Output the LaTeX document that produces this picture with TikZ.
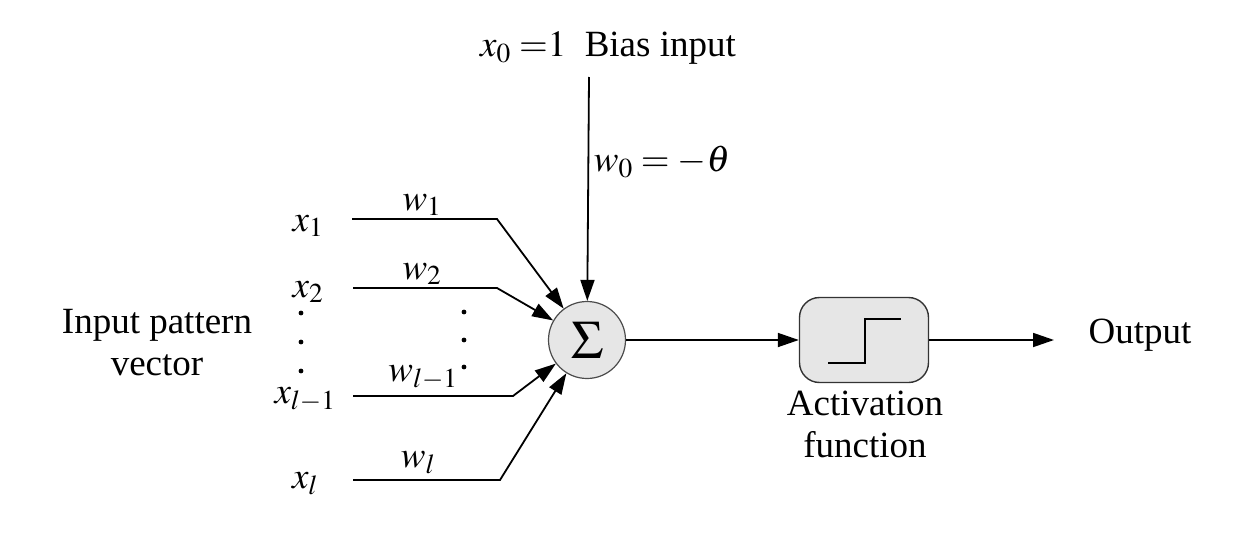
\documentclass[tikz,border=0pt]{standalone}
\usepackage{mathptmx}
\usepackage[no-math]{fontspec}
\setmainfont{Liberation Serif}
\usetikzlibrary{arrows.meta}
\definecolor{fillgray}{HTML}{E6E6E6}
\tikzset{
  txt/.style={inner sep=0pt, font=\fontsize{37}{42}\selectfont},
  arr/.style={line width=1.8pt, -{Triangle[length=21pt,width=14pt]}},
}
\begin{document}
\begin{tikzpicture}[x=1pt,y=-1pt]
\useasboundingbox (0,0) rectangle (1248,546);
% summing node
\node[circle, draw=black!70, fill=fillgray, line width=1.2pt, minimum size=77pt, inner sep=0pt] (sum) at (587,340) {\fontsize{54}{60}\selectfont$\Sigma$};
% activation block
\node[draw=black!80, fill=fillgray, rounded corners=20pt, line width=1.4pt, minimum width=129pt, minimum height=85pt] (act) at (864,340) {};
\draw[line width=1.8pt] ([xshift=-36pt,yshift=-23pt]act.center) -- ([xshift=1pt,yshift=-23pt]act.center) -- ([xshift=1pt,yshift=21pt]act.center) -- ([xshift=37pt,yshift=21pt]act.center);
% inputs
\coordinate (s1) at (352,219); \coordinate (c1) at (497,219);
\coordinate (s2) at (353,288); \coordinate (c2) at (497,288);
\coordinate (s3) at (353,396); \coordinate (c3) at (513,396);
\coordinate (s4) at (353,480); \coordinate (c4) at (500,480);
\coordinate (b0) at (589,77);
\draw[arr] (s1) -- (c1) -- (sum);
\draw[arr] (s2) -- (c2) -- (sum);
\draw[arr] (s3) -- (c3) -- (sum);
\draw[arr] (s4) -- (c4) -- (sum);
\draw[arr] (b0) -- (sum);
% output
\coordinate (out) at (1054,340);
\draw[arr] (sum) -- (act);
\draw[arr] (act) -- (out);
% labels
\node[txt] (lx1) at (308,226) {$x_1$};
\node[txt] (lx2) at (308,292) {$x_2$};
\node[txt] (lx3) at (305,400) {$x_{l-1}$};
\node[txt] (lx4) at (305,484) {$x_l$};
\node[txt] (lw1) at (422,205) {$w_1$};
\node[txt] (lw2) at (422,274) {$w_2$};
\node[txt] (lw3) at (423,378) {$w_{l-1}$};
\node[txt] (lw4) at (418,463) {$w_l$};
\foreach \yy [count=\i] in {313,342,371} { \fill (301,\yy) circle (2.4pt) coordinate (dl\i); }
\foreach \yy [count=\i] in {312,340,367} { \fill (464,\yy) circle (2.4pt) coordinate (dr\i); }
\node[txt] (bias) at (608,48) {$x_0\;{=}1$\ \ Bias input};
\node[txt] (lw0) at (662,162) {$w_0 =-\theta$};
\node[txt, align=center] (ipv) at (157,343) {Input pattern\\vector};
\node[txt, align=center] (actlbl) at (865,424) {Activation\\function};
\node[txt] (outlbl) at (1140,335) {Output};
\end{tikzpicture}
\end{document}
